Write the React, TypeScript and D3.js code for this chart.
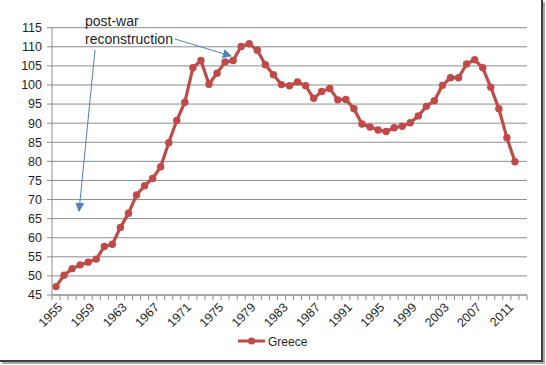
import React from "react";
import * as d3 from "d3";

// years on the category axis (2013 is an empty slot at the end)
const years = d3.range(1955, 2014);
const greece = [
  47.2, 50.2, 51.9, 52.9, 53.6, 54.4, 57.7, 58.3, 62.7, 66.4,
  71.2, 73.6, 75.5, 78.6, 84.9, 90.7, 95.5, 104.5, 106.4, 100.2,
  103.1, 106.0, 106.4, 110.1, 110.8, 109.1, 105.3, 102.7, 100.1, 99.8,
  100.8, 99.8, 96.5, 98.3, 99.1, 96.1, 96.2, 93.8, 89.8, 89.0,
  88.2, 87.8, 88.8, 89.2, 90.1, 91.9, 94.4, 95.9, 99.9, 101.9,
  101.9, 105.5, 106.6, 104.5, 99.4, 93.8, 86.2, 79.9,
];
const yTicks = d3.range(45, 116, 5);
const seriesName = "Greece";
const noteLines = ["post-war", "reconstruction"];

const W = 546;
const H = 365;
const margin = { top: 27.7, right: 19, bottom: 70, left: 52 };
const red = "#be4b48";
const blue = "#4f81bd";
const font = "'Liberation Sans', Arial, sans-serif";

export default function App() {
  const x = d3
    .scaleBand<number>()
    .domain(years)
    .range([margin.left, W - margin.right])
    .padding(0);
  const y = d3.scaleLinear().domain([45, 115]).range([H - margin.bottom, margin.top]);
  const cx = (yr: number) => (x(yr) as number) + x.bandwidth() / 2;

  const pts = greece.map((v, i) => ({ yr: years[i], v }));
  const line = d3
    .line<{ yr: number; v: number }>()
    .x((d) => cx(d.yr))
    .y((d) => y(d.v));

  const y0 = y(45);
  const boundaries = years.map((yr) => x(yr) as number).concat([W - margin.right]);

  return (
    <div style={{ position: "fixed", left: 0, top: 0 }}>
      <svg width={W} height={H} style={{ display: "block", background: "#fff" }}>
        <defs>
          <marker
            id="arr"
            viewBox="0 0 10 10"
            refX="9"
            refY="5"
            markerWidth="9"
            markerHeight="9"
            markerUnits="userSpaceOnUse"
            orient="auto"
          >
            <path d="M0,0 L10,5 L0,10 z" fill={blue} />
          </marker>
        </defs>

        {/* gridlines */}
        {yTicks.map((t) => (
          <line
            key={t}
            x1={margin.left}
            x2={W - margin.right}
            y1={y(t)}
            y2={y(t)}
            stroke="#8c8c8c"
            strokeWidth={1}
          />
        ))}

        {/* y axis */}
        <line x1={margin.left} x2={margin.left} y1={y(115)} y2={y0} stroke="#8c8c8c" />
        {yTicks.map((t) => (
          <g key={"yt" + t}>
            <line x1={margin.left - 5} x2={margin.left} y1={y(t)} y2={y(t)} stroke="#8c8c8c" />
            <text
              x={margin.left - 10}
              y={y(t)}
              dy="0.35em"
              textAnchor="end"
              fontFamily={font}
              fontSize={12.5}
              fill="#1f1f1f"
            >
              {t}
            </text>
          </g>
        ))}

        {/* x axis */}
        <line x1={margin.left} x2={W - margin.right} y1={y0} y2={y0} stroke="#8c8c8c" />
        {boundaries.map((b, i) => (
          <line key={"xt" + i} x1={b} x2={b} y1={y0} y2={y0 + 5} stroke="#8c8c8c" />
        ))}
        {years
          .filter((yr) => (yr - 1955) % 4 === 0)
          .map((yr) => (
            <text
              key={"xl" + yr}
              transform={`translate(${cx(yr) + 1},${y0 + 7}) rotate(-45)`}
              textAnchor="end"
              dy="0.7em"
              fontFamily={font}
              fontSize={12.5}
              fill="#1f1f1f"
            >
              {yr}
            </text>
          ))}

        {/* series */}
        <path d={line(pts) || ""} fill="none" stroke={red} strokeWidth={3.2} strokeLinejoin="round" />
        {pts.map((d) => (
          <circle key={d.yr} cx={cx(d.yr)} cy={y(d.v)} r={3.7} fill={red} />
        ))}

        {/* annotation */}
        {noteLines.map((s, i) => (
          <text key={s} x={85} y={26 + i * 17.5} fontFamily={font} fontSize={14} fill="#1f1f1f">
            {s}
          </text>
        ))}
        <line x1={175} y1={39} x2={231} y2={56} stroke={blue} strokeWidth={1} markerEnd="url(#arr)" />
        <line x1={95} y1={50} x2={79} y2={211} stroke={blue} strokeWidth={1} markerEnd="url(#arr)" />

        {/* legend */}
        <line x1={238} x2={265} y1={341} y2={341} stroke={red} strokeWidth={3} />
        <circle cx={251.5} cy={341} r={3.6} fill={red} />
        <text x={268} y={345.5} fontFamily={font} fontSize={12} fill="#1f1f1f">
          {seriesName}
        </text>

        {/* frame shadow */}
        <line x1={542} x2={542} y1={0} y2={361} stroke="#3c3c3c" strokeWidth={2} />
        <line x1={544} x2={544} y1={2} y2={363} stroke="#aaa" strokeWidth={2} />
        <line x1={0} x2={543} y1={361} y2={361} stroke="#3c3c3c" strokeWidth={2} />
        <line x1={2} x2={545} y1={363} y2={363} stroke="#aaa" strokeWidth={2} />
      </svg>
    </div>
  );
}
